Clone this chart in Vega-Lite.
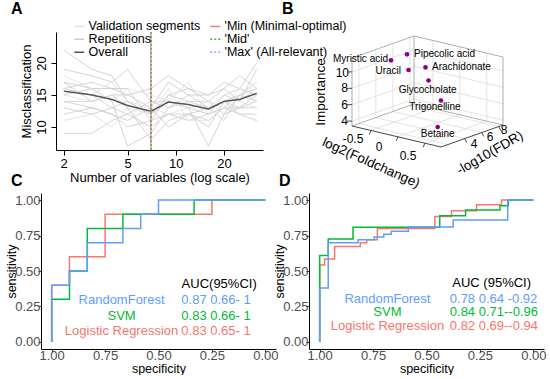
{
"$schema":"https://vega.github.io/schema/vega-lite/v6.json",
"autosize":{"type":"pad"},
"padding":{"left":5,"top":0,"right":0,"bottom":0},
"background":"white",
"config":{"font":"Liberation Sans","view":{"stroke":null},"axis":{"grid":false,"titleFontWeight":"normal","labelFont":"Liberation Sans","titleFont":"Liberation Sans"},"title":{"fontWeight":"bold","fontSize":16,"anchor":"start","frame":"group","baseline":"bottom","offset":0,"color":"black"}},
"columns":2,
"bounds":"flush",
"spacing":{"row":43,"column":33},
"resolve":{"scale":{"color":"independent","strokeDash":"independent","size":"independent","angle":"independent"},"legend":{"color":"independent","strokeDash":"independent"}},
"datasets":{
"reps":[
{"r":"r1","n":2,"m":17,"s":"Repetitions"},{"r":"r1","n":3,"m":16,"s":"Repetitions"},{"r":"r1","n":4,"m":16,"s":"Repetitions"},{"r":"r1","n":5,"m":15,"s":"Repetitions"},{"r":"r1","n":7,"m":13,"s":"Repetitions"},{"r":"r1","n":9,"m":17,"s":"Repetitions"},{"r":"r1","n":12,"m":15,"s":"Repetitions"},{"r":"r1","n":16,"m":13,"s":"Repetitions"},{"r":"r1","n":20,"m":14,"s":"Repetitions"},{"r":"r1","n":25,"m":15,"s":"Repetitions"},{"r":"r1","n":32,"m":16,"s":"Repetitions"},
{"r":"r2","n":2,"m":9,"s":"Repetitions"},{"r":"r2","n":3,"m":9,"s":"Repetitions"},{"r":"r2","n":4,"m":11,"s":"Repetitions"},{"r":"r2","n":5,"m":12,"s":"Repetitions"},{"r":"r2","n":7,"m":10,"s":"Repetitions"},{"r":"r2","n":9,"m":12,"s":"Repetitions"},{"r":"r2","n":12,"m":12,"s":"Repetitions"},{"r":"r2","n":16,"m":11,"s":"Repetitions"},{"r":"r2","n":20,"m":13,"s":"Repetitions"},{"r":"r2","n":25,"m":13,"s":"Repetitions"},{"r":"r2","n":32,"m":14,"s":"Repetitions"},
{"r":"r3","n":2,"m":22,"s":"Repetitions"},{"r":"r3","n":3,"m":19,"s":"Repetitions"},{"r":"r3","n":4,"m":18,"s":"Repetitions"},{"r":"r3","n":5,"m":14,"s":"Repetitions"},{"r":"r3","n":7,"m":12,"s":"Repetitions"},{"r":"r3","n":9,"m":15,"s":"Repetitions"},{"r":"r3","n":12,"m":16,"s":"Repetitions"},{"r":"r3","n":16,"m":14,"s":"Repetitions"},{"r":"r3","n":20,"m":12,"s":"Repetitions"},{"r":"r3","n":25,"m":15,"s":"Repetitions"},{"r":"r3","n":32,"m":17,"s":"Repetitions"},
{"r":"r4","n":2,"m":16,"s":"Repetitions"},{"r":"r4","n":3,"m":15,"s":"Repetitions"},{"r":"r4","n":4,"m":13,"s":"Repetitions"},{"r":"r4","n":5,"m":12,"s":"Repetitions"},{"r":"r4","n":7,"m":14,"s":"Repetitions"},{"r":"r4","n":9,"m":14,"s":"Repetitions"},{"r":"r4","n":12,"m":13,"s":"Repetitions"},{"r":"r4","n":16,"m":12,"s":"Repetitions"},{"r":"r4","n":20,"m":15,"s":"Repetitions"},{"r":"r4","n":25,"m":16,"s":"Repetitions"},{"r":"r4","n":32,"m":15,"s":"Repetitions"},
{"r":"r5","n":2,"m":14,"s":"Repetitions"},{"r":"r5","n":3,"m":14,"s":"Repetitions"},{"r":"r5","n":4,"m":15,"s":"Repetitions"},{"r":"r5","n":5,"m":13,"s":"Repetitions"},{"r":"r5","n":7,"m":8,"s":"Repetitions"},{"r":"r5","n":9,"m":11,"s":"Repetitions"},{"r":"r5","n":12,"m":12,"s":"Repetitions"},{"r":"r5","n":16,"m":10,"s":"Repetitions"},{"r":"r5","n":20,"m":14,"s":"Repetitions"},{"r":"r5","n":25,"m":12,"s":"Repetitions"},{"r":"r5","n":32,"m":12,"s":"Repetitions"},
{"r":"r6","n":2,"m":19,"s":"Repetitions"},{"r":"r6","n":3,"m":18,"s":"Repetitions"},{"r":"r6","n":4,"m":17,"s":"Repetitions"},{"r":"r6","n":5,"m":19,"s":"Repetitions"},{"r":"r6","n":7,"m":14,"s":"Repetitions"},{"r":"r6","n":9,"m":13,"s":"Repetitions"},{"r":"r6","n":12,"m":15,"s":"Repetitions"},{"r":"r6","n":16,"m":15,"s":"Repetitions"},{"r":"r6","n":20,"m":16,"s":"Repetitions"},{"r":"r6","n":25,"m":14,"s":"Repetitions"},{"r":"r6","n":32,"m":19,"s":"Repetitions"},
{"r":"r7","n":2,"m":12,"s":"Repetitions"},{"r":"r7","n":3,"m":13,"s":"Repetitions"},{"r":"r7","n":4,"m":12,"s":"Repetitions"},{"r":"r7","n":5,"m":10,"s":"Repetitions"},{"r":"r7","n":7,"m":11,"s":"Repetitions"},{"r":"r7","n":9,"m":12,"s":"Repetitions"},{"r":"r7","n":12,"m":11,"s":"Repetitions"},{"r":"r7","n":16,"m":12,"s":"Repetitions"},{"r":"r7","n":20,"m":13,"s":"Repetitions"},{"r":"r7","n":25,"m":12,"s":"Repetitions"},{"r":"r7","n":32,"m":11,"s":"Repetitions"},
{"r":"r8","n":2,"m":15,"s":"Repetitions"},{"r":"r8","n":3,"m":16,"s":"Repetitions"},{"r":"r8","n":4,"m":14,"s":"Repetitions"},{"r":"r8","n":5,"m":7,"s":"Repetitions"},{"r":"r8","n":7,"m":9,"s":"Repetitions"},{"r":"r8","n":9,"m":13,"s":"Repetitions"},{"r":"r8","n":12,"m":14,"s":"Repetitions"},{"r":"r8","n":16,"m":13,"s":"Repetitions"},{"r":"r8","n":20,"m":11,"s":"Repetitions"},{"r":"r8","n":25,"m":15,"s":"Repetitions"},{"r":"r8","n":32,"m":14,"s":"Repetitions"},
{"r":"r9","n":2,"m":17,"s":"Repetitions"},{"r":"r9","n":3,"m":14,"s":"Repetitions"},{"r":"r9","n":4,"m":15,"s":"Repetitions"},{"r":"r9","n":5,"m":15,"s":"Repetitions"},{"r":"r9","n":7,"m":16,"s":"Repetitions"},{"r":"r9","n":9,"m":18,"s":"Repetitions"},{"r":"r9","n":12,"m":16,"s":"Repetitions"},{"r":"r9","n":16,"m":15,"s":"Repetitions"},{"r":"r9","n":20,"m":17,"s":"Repetitions"},{"r":"r9","n":25,"m":16,"s":"Repetitions"},{"r":"r9","n":32,"m":20,"s":"Repetitions"},
{"r":"r10","n":2,"m":13,"s":"Repetitions"},{"r":"r10","n":3,"m":12,"s":"Repetitions"},{"r":"r10","n":4,"m":13,"s":"Repetitions"},{"r":"r10","n":5,"m":14,"s":"Repetitions"},{"r":"r10","n":7,"m":12,"s":"Repetitions"},{"r":"r10","n":9,"m":14,"s":"Repetitions"},{"r":"r10","n":12,"m":13,"s":"Repetitions"},{"r":"r10","n":16,"m":7,"s":"Repetitions"},{"r":"r10","n":20,"m":12,"s":"Repetitions"},{"r":"r10","n":25,"m":13,"s":"Repetitions"},{"r":"r10","n":32,"m":13,"s":"Repetitions"},
{"r":"r11","n":2,"m":16,"s":"Repetitions"},{"r":"r11","n":3,"m":17,"s":"Repetitions"},{"r":"r11","n":4,"m":16,"s":"Repetitions"},{"r":"r11","n":5,"m":16,"s":"Repetitions"},{"r":"r11","n":7,"m":11,"s":"Repetitions"},{"r":"r11","n":9,"m":15,"s":"Repetitions"},{"r":"r11","n":12,"m":14,"s":"Repetitions"},{"r":"r11","n":16,"m":14,"s":"Repetitions"},{"r":"r11","n":20,"m":16,"s":"Repetitions"},{"r":"r11","n":25,"m":18,"s":"Repetitions"},{"r":"r11","n":32,"m":16,"s":"Repetitions"},
{"r":"r12","n":2,"m":14,"s":"Repetitions"},{"r":"r12","n":3,"m":13,"s":"Repetitions"},{"r":"r12","n":4,"m":12,"s":"Repetitions"},{"r":"r12","n":5,"m":11,"s":"Repetitions"},{"r":"r12","n":7,"m":13,"s":"Repetitions"},{"r":"r12","n":9,"m":10,"s":"Repetitions"},{"r":"r12","n":12,"m":12,"s":"Repetitions"},{"r":"r12","n":16,"m":13,"s":"Repetitions"},{"r":"r12","n":20,"m":14,"s":"Repetitions"},{"r":"r12","n":25,"m":13,"s":"Repetitions"},{"r":"r12","n":32,"m":15,"s":"Repetitions"},
{"r":"r13","n":2,"m":18,"s":"Validation segments"},{"r":"r13","n":3,"m":16,"s":"Validation segments"},{"r":"r13","n":4,"m":14,"s":"Validation segments"},{"r":"r13","n":5,"m":16,"s":"Validation segments"},{"r":"r13","n":7,"m":15,"s":"Validation segments"},{"r":"r13","n":9,"m":14,"s":"Validation segments"},{"r":"r13","n":12,"m":17,"s":"Validation segments"},{"r":"r13","n":16,"m":12,"s":"Validation segments"},{"r":"r13","n":20,"m":15,"s":"Validation segments"},{"r":"r13","n":25,"m":14,"s":"Validation segments"},{"r":"r13","n":32,"m":16,"s":"Validation segments"},
{"r":"r14","n":2,"m":15,"s":"Validation segments"},{"r":"r14","n":3,"m":14,"s":"Validation segments"},{"r":"r14","n":4,"m":15,"s":"Validation segments"},{"r":"r14","n":5,"m":13,"s":"Validation segments"},{"r":"r14","n":7,"m":12,"s":"Validation segments"},{"r":"r14","n":9,"m":16,"s":"Validation segments"},{"r":"r14","n":12,"m":11,"s":"Validation segments"},{"r":"r14","n":16,"m":11,"s":"Validation segments"},{"r":"r14","n":20,"m":13,"s":"Validation segments"},{"r":"r14","n":25,"m":15,"s":"Validation segments"},{"r":"r14","n":32,"m":17,"s":"Validation segments"},
{"r":"r15","n":2,"m":11,"s":"Validation segments"},{"r":"r15","n":3,"m":12,"s":"Validation segments"},{"r":"r15","n":4,"m":10,"s":"Validation segments"},{"r":"r15","n":5,"m":13,"s":"Validation segments"},{"r":"r15","n":7,"m":9,"s":"Validation segments"},{"r":"r15","n":9,"m":13,"s":"Validation segments"},{"r":"r15","n":12,"m":14,"s":"Validation segments"},{"r":"r15","n":16,"m":13,"s":"Validation segments"},{"r":"r15","n":20,"m":15,"s":"Validation segments"},{"r":"r15","n":25,"m":14,"s":"Validation segments"},{"r":"r15","n":32,"m":13,"s":"Validation segments"},
{"r":"r16","n":2,"m":16,"s":"Validation segments"},{"r":"r16","n":3,"m":15,"s":"Validation segments"},{"r":"r16","n":4,"m":17,"s":"Validation segments"},{"r":"r16","n":5,"m":14,"s":"Validation segments"},{"r":"r16","n":7,"m":13,"s":"Validation segments"},{"r":"r16","n":9,"m":12,"s":"Validation segments"},{"r":"r16","n":12,"m":13,"s":"Validation segments"},{"r":"r16","n":16,"m":14,"s":"Validation segments"},{"r":"r16","n":20,"m":13,"s":"Validation segments"},{"r":"r16","n":25,"m":16,"s":"Validation segments"},{"r":"r16","n":32,"m":14,"s":"Validation segments"}
],
"overall":[
{"n":2,"m":15.6,"s":"Overall"},{"n":3,"m":15.0,"s":"Overall"},{"n":4,"m":14.3,"s":"Overall"},{"n":5,"m":13.35,"s":"Overall"},{"n":7,"m":12.45,"s":"Overall"},{"n":9,"m":13.9,"s":"Overall"},{"n":12,"m":13.5,"s":"Overall"},{"n":16,"m":12.8,"s":"Overall"},{"n":20,"m":14.0,"s":"Overall"},{"n":25,"m":14.3,"s":"Overall"},{"n":32,"m":15.25,"s":"Overall"}
],
"sel":[
{"n":7,"s":"'Max' (All-relevant)"},{"n":7,"s":"'Min (Minimal-optimal)"},{"n":7,"s":"'Mid'"}
],
"bgrid":[
{"u":351,"v":119.1,"u2":413,"v2":97.1},{"u":351,"v":102.7,"u2":413,"v2":80.7},{"u":351,"v":86.3,"u2":413,"v2":64.3},{"u":351,"v":69.9,"u2":413,"v2":47.9},
{"u":413,"v":97.1,"u2":502,"v2":118.1},{"u":413,"v":80.7,"u2":502,"v2":101.7},{"u":413,"v":64.3,"u2":502,"v2":85.3},{"u":413,"v":47.9,"u2":502,"v2":68.9},
{"u":357.8,"v":121.6,"u2":357.8,"v2":53.6},{"u":374.8,"v":115.6,"u2":374.8,"v2":47.6},{"u":391.8,"v":109.5,"u2":391.8,"v2":41.5},{"u":408.8,"v":103.5,"u2":408.8,"v2":35.5},
{"u":431.9,"v":106.5,"u2":431.9,"v2":38.5},{"u":458.8,"v":112.8,"u2":458.8,"v2":44.8},{"u":485.8,"v":119.2,"u2":485.8,"v2":51.2},
{"u":357.8,"v":121.6,"u2":446.8,"v2":142.6},{"u":374.8,"v":115.6,"u2":463.8,"v2":136.6},{"u":391.8,"v":109.5,"u2":480.8,"v2":130.5},{"u":408.8,"v":103.5,"u2":497.8,"v2":124.5},
{"u":369.9,"v":128.5,"u2":431.9,"v2":106.5},{"u":396.8,"v":134.8,"u2":458.8,"v2":112.8},{"u":423.8,"v":141.2,"u2":485.8,"v2":119.2}
],
"bbox":[
{"u":351,"v":124,"u2":351,"v2":56},{"u":413,"v":102,"u2":413,"v2":34},{"u":502,"v":123,"u2":502,"v2":55},
{"u":351,"v":56,"u2":413,"v2":34},{"u":413,"v":34,"u2":502,"v2":55},{"u":351,"v":124,"u2":413,"v2":102},{"u":413,"v":102,"u2":502,"v2":123}
],
"baxis":[
{"u":351,"v":124,"u2":440,"v2":145},{"u":440,"v":145,"u2":502,"v2":123},
{"u":346,"v":119.1,"u2":351,"v2":119.1},{"u":346,"v":102.7,"u2":351,"v2":102.7},{"u":346,"v":86.3,"u2":351,"v2":86.3},{"u":346,"v":69.9,"u2":351,"v2":69.9},
{"u":369.9,"v":128.5,"u2":368.4,"v2":132.5},{"u":396.8,"v":134.8,"u2":395.3,"v2":138.8},{"u":423.8,"v":141.2,"u2":422.3,"v2":145.2},
{"u":463.8,"v":136.6,"u2":465.8,"v2":140.6},{"u":480.8,"v":130.5,"u2":482.8,"v2":134.5},{"u":497.8,"v":124.5,"u2":499.8,"v2":128.5}
],
"bpts":[
{"u":406,"v":52.3,"name":"Pipecolic acid"},{"u":390,"v":58.3,"name":"Myristic acid"},{"u":407.5,"v":68,"name":"Uracil"},{"u":424.5,"v":65.3,"name":"Arachidonate"},{"u":427.5,"v":78.5,"name":"Glycocholate"},{"u":440,"v":98.5,"name":"Trigonelline"},{"u":436.7,"v":125,"name":"Betaine"}
],
"btl":[
{"u":413,"v":52,"t":"Pipecolic acid","sz":10},{"u":431,"v":64.5,"t":"Arachidonate","sz":10}
],
"btr":[
{"u":387,"v":57,"t":"Myristic acid","sz":10},{"u":400,"v":69,"t":"Uracil","sz":10},
{"u":347,"v":119.1,"t":"4","sz":12},{"u":347,"v":102.7,"t":"6","sz":12},{"u":347,"v":86.3,"t":"8","sz":12},{"u":348,"v":70.5,"t":"10","sz":12}
],
"btc":[
{"u":426.7,"v":88.3,"t":"Glycocholate","sz":10,"a":0},{"u":434,"v":105,"t":"Trigonelline","sz":10,"a":0},{"u":436.7,"v":132.3,"t":"Betaine","sz":10,"a":0},
{"u":352,"v":137,"t":"-0.5","sz":12,"a":0},{"u":378,"v":145,"t":"0","sz":12,"a":0},{"u":407,"v":154,"t":"0.5","sz":12,"a":0},
{"u":473,"v":142,"t":"4","sz":12,"a":0},{"u":489,"v":135,"t":"6","sz":12,"a":0},{"u":503,"v":127.5,"t":"8","sz":12,"a":0},
{"u":320,"v":90,"t":"Importance","sz":13.5,"a":270},{"u":370,"v":161,"t":"log2(Foldchange)","sz":13.5,"a":24},{"u":489,"v":151,"t":"-log10(FDR)","sz":13.5,"a":330}
],
"rocC":[
{"mdl":"Logistic Regression","i":0,"sp":1,"se":0},{"mdl":"Logistic Regression","i":1,"sp":1,"se":0.4},{"mdl":"Logistic Regression","i":2,"sp":0.9167,"se":0.4},{"mdl":"Logistic Regression","i":3,"sp":0.9167,"se":0.6},{"mdl":"Logistic Regression","i":4,"sp":0.75,"se":0.6},{"mdl":"Logistic Regression","i":5,"sp":0.75,"se":0.9},{"mdl":"Logistic Regression","i":6,"sp":0.25,"se":0.9},{"mdl":"Logistic Regression","i":7,"sp":0.25,"se":1},{"mdl":"Logistic Regression","i":8,"sp":0,"se":1},
{"mdl":"SVM","i":0,"sp":1,"se":0},{"mdl":"SVM","i":1,"sp":1,"se":0.3},{"mdl":"SVM","i":2,"sp":0.9167,"se":0.3},{"mdl":"SVM","i":3,"sp":0.9167,"se":0.5},{"mdl":"SVM","i":4,"sp":0.8333,"se":0.5},{"mdl":"SVM","i":5,"sp":0.8333,"se":0.8},{"mdl":"SVM","i":6,"sp":0.6667,"se":0.8},{"mdl":"SVM","i":7,"sp":0.6667,"se":0.9},{"mdl":"SVM","i":8,"sp":0.3333,"se":0.9},{"mdl":"SVM","i":9,"sp":0.3333,"se":1},{"mdl":"SVM","i":10,"sp":0,"se":1},
{"mdl":"RandomForest","i":0,"sp":1,"se":0},{"mdl":"RandomForest","i":1,"sp":1,"se":0.4},{"mdl":"RandomForest","i":2,"sp":0.9167,"se":0.4},{"mdl":"RandomForest","i":3,"sp":0.9167,"se":0.5},{"mdl":"RandomForest","i":4,"sp":0.8333,"se":0.5},{"mdl":"RandomForest","i":5,"sp":0.8333,"se":0.7},{"mdl":"RandomForest","i":6,"sp":0.6667,"se":0.7},{"mdl":"RandomForest","i":7,"sp":0.6667,"se":0.8},{"mdl":"RandomForest","i":8,"sp":0.5833,"se":0.8},{"mdl":"RandomForest","i":9,"sp":0.5833,"se":0.9},{"mdl":"RandomForest","i":10,"sp":0.5,"se":0.9},{"mdl":"RandomForest","i":11,"sp":0.5,"se":1},{"mdl":"RandomForest","i":12,"sp":0,"se":1}
],
"rocD":[
{"mdl":"Logistic Regression","i":0,"sp":1,"se":0},{"mdl":"Logistic Regression","i":1,"sp":1,"se":0.543},{"mdl":"Logistic Regression","i":2,"sp":0.977,"se":0.543},{"mdl":"Logistic Regression","i":3,"sp":0.977,"se":0.585},{"mdl":"Logistic Regression","i":4,"sp":0.93,"se":0.585},{"mdl":"Logistic Regression","i":5,"sp":0.93,"se":0.672},{"mdl":"Logistic Regression","i":6,"sp":0.81,"se":0.672},{"mdl":"Logistic Regression","i":7,"sp":0.81,"se":0.7},{"mdl":"Logistic Regression","i":8,"sp":0.78,"se":0.7},{"mdl":"Logistic Regression","i":9,"sp":0.78,"se":0.72},{"mdl":"Logistic Regression","i":10,"sp":0.73,"se":0.72},{"mdl":"Logistic Regression","i":11,"sp":0.73,"se":0.8},{"mdl":"Logistic Regression","i":12,"sp":0.461,"se":0.8},{"mdl":"Logistic Regression","i":13,"sp":0.461,"se":0.885},{"mdl":"Logistic Regression","i":14,"sp":0.383,"se":0.885},{"mdl":"Logistic Regression","i":15,"sp":0.383,"se":0.925},{"mdl":"Logistic Regression","i":16,"sp":0.266,"se":0.925},{"mdl":"Logistic Regression","i":17,"sp":0.266,"se":0.967},{"mdl":"Logistic Regression","i":18,"sp":0.149,"se":0.967},{"mdl":"Logistic Regression","i":19,"sp":0.149,"se":1},{"mdl":"Logistic Regression","i":20,"sp":0,"se":1},
{"mdl":"SVM","i":0,"sp":1,"se":0},{"mdl":"SVM","i":1,"sp":1,"se":0.61},{"mdl":"SVM","i":2,"sp":0.96,"se":0.61},{"mdl":"SVM","i":3,"sp":0.96,"se":0.726},{"mdl":"SVM","i":4,"sp":0.844,"se":0.726},{"mdl":"SVM","i":5,"sp":0.844,"se":0.808},{"mdl":"SVM","i":6,"sp":0.438,"se":0.808},{"mdl":"SVM","i":7,"sp":0.438,"se":0.89},{"mdl":"SVM","i":8,"sp":0.317,"se":0.89},{"mdl":"SVM","i":9,"sp":0.317,"se":0.93},{"mdl":"SVM","i":10,"sp":0.156,"se":0.93},{"mdl":"SVM","i":11,"sp":0.156,"se":0.96},{"mdl":"SVM","i":12,"sp":0.117,"se":0.96},{"mdl":"SVM","i":13,"sp":0.117,"se":1},{"mdl":"SVM","i":14,"sp":0,"se":1},
{"mdl":"RandomForest","i":0,"sp":1,"se":0},{"mdl":"RandomForest","i":1,"sp":1,"se":0.38},{"mdl":"RandomForest","i":2,"sp":0.96,"se":0.38},{"mdl":"RandomForest","i":3,"sp":0.96,"se":0.7},{"mdl":"RandomForest","i":4,"sp":0.82,"se":0.7},{"mdl":"RandomForest","i":5,"sp":0.82,"se":0.72},{"mdl":"RandomForest","i":6,"sp":0.745,"se":0.72},{"mdl":"RandomForest","i":7,"sp":0.745,"se":0.74},{"mdl":"RandomForest","i":8,"sp":0.7,"se":0.74},{"mdl":"RandomForest","i":9,"sp":0.7,"se":0.76},{"mdl":"RandomForest","i":10,"sp":0.665,"se":0.76},{"mdl":"RandomForest","i":11,"sp":0.665,"se":0.78},{"mdl":"RandomForest","i":12,"sp":0.585,"se":0.78},{"mdl":"RandomForest","i":13,"sp":0.585,"se":0.81},{"mdl":"RandomForest","i":14,"sp":0.375,"se":0.81},{"mdl":"RandomForest","i":15,"sp":0.375,"se":0.86},{"mdl":"RandomForest","i":16,"sp":0.12,"se":0.86},{"mdl":"RandomForest","i":17,"sp":0.12,"se":1},{"mdl":"RandomForest","i":18,"sp":0,"se":1}
],
"aucC":[
{"sp":0.216,"se":0.411,"t":"AUC(95%CI)","mdl":"hdr"},{"sp":0.673,"se":0.296,"t":"RandomForest","mdl":"RandomForest"},{"sp":0.673,"se":0.185,"t":"SVM","mdl":"SVM"},{"sp":0.673,"se":0.074,"t":"Logistic Regression","mdl":"Logistic Regression"}
],
"aucCv":[
{"sp":0.393,"se":0.296,"t":"0.87 0.66- 1","mdl":"RandomForest"},{"sp":0.393,"se":0.185,"t":"0.83 0.66- 1","mdl":"SVM"},{"sp":0.393,"se":0.074,"t":"0.83 0.65- 1","mdl":"Logistic Regression"}
],
"aucD":[
{"sp":0.195,"se":0.417,"t":"AUC (95%CI)","mdl":"hdr"},{"sp":0.683,"se":0.304,"t":"RandomForest","mdl":"RandomForest"},{"sp":0.683,"se":0.209,"t":"SVM","mdl":"SVM"},{"sp":0.683,"se":0.111,"t":"Logistic Regression","mdl":"Logistic Regression"}
],
"aucDv":[
{"sp":0.391,"se":0.304,"t":"0.78 0.64 -0.92","mdl":"RandomForest"},{"sp":0.391,"se":0.209,"t":"0.84 0.71--0.96","mdl":"SVM"},{"sp":0.391,"se":0.111,"t":"0.82 0.69--0.94","mdl":"Logistic Regression"}
]
},
"concat":[
{
"width":222,"height":118,
"title":{"text":"A","dx":-30,"dy":0.5},
"layer":[
{"data":{"name":"reps"},"mark":{"type":"line","strokeWidth":1},
"encoding":{
"x":{"field":"n","type":"quantitative","scale":{"type":"log","domain":[1.79,35],"range":[15,222],"nice":false},"axis":{"title":"Number of variables (log scale)","values":[2,5,10,20],"format":"d","labelFlush":false,"labelFontSize":13,"titleFontSize":13,"labelColor":"black","titleColor":"black","tickColor":"black","domainColor":"black","tickSize":5,"labelPadding":2,"titlePadding":1}},
"y":{"field":"m","type":"quantitative","scale":{"domain":[6.4,24.84],"nice":false,"zero":false},"axis":{"title":"Misclassification","values":[10,15,20],"offset":-15,"labelAngle":-90,"labelAlign":"center","labelBaseline":"bottom","labelFontSize":13,"titleFontSize":13,"labelColor":"black","titleColor":"black","tickColor":"black","domainColor":"black","tickSize":5,"labelPadding":3,"titlePadding":2}},
"detail":{"field":"r","type":"nominal"},
"color":{"field":"s","type":"nominal","scale":{"domain":["Validation segments","Repetitions","Overall","'Min (Minimal-optimal)","'Mid'","'Max' (All-relevant)"],"range":["#e2e2e2","#cfcfcf","#555555","#F27B7B","#33BB44","#A0A0F0"]},"legend":{"title":null,"orient":"none","legendX":32,"legendY":-12,"columns":2,"symbolType":"stroke","symbolSize":100,"symbolStrokeWidth":1.5,"labelFontSize":12.5,"labelColor":"black","labelLimit":0,"rowPadding":-5,"columnPadding":6,"labelOffset":3,"padding":0}},
"strokeDash":{"field":"s","type":"nominal","scale":{"domain":["Validation segments","Repetitions","Overall","'Min (Minimal-optimal)","'Mid'","'Max' (All-relevant)"],"range":[[1,0],[1,0],[1,0],[1,0],[2,2],[2,2]]},"legend":{"title":null,"orient":"none","legendX":32,"legendY":-12,"columns":2,"symbolType":"stroke","symbolSize":100,"symbolStrokeWidth":1.5,"labelFontSize":12.5,"labelColor":"black","labelLimit":0,"rowPadding":-5,"columnPadding":6,"labelOffset":3,"padding":0}}
}},
{"data":{"name":"overall"},"mark":{"type":"line","strokeWidth":1.5},
"encoding":{
"x":{"field":"n","type":"quantitative"},
"y":{"field":"m","type":"quantitative"},
"color":{"field":"s","type":"nominal"},
"strokeDash":{"field":"s","type":"nominal"}
}},
{"data":{"name":"sel"},"mark":{"type":"rule","strokeWidth":1.2},
"encoding":{
"x":{"field":"n","type":"quantitative"},
"color":{"field":"s","type":"nominal"},
"strokeDash":{"field":"s","type":"nominal"}
}}
]
},
{
"width":240,"height":118,
"title":{"text":"B","dx":-27,"dy":-11},
"encoding":{
"x":{"field":"u","type":"quantitative","scale":{"domain":[308,548],"nice":false,"zero":false},"axis":null},
"y":{"field":"v","type":"quantitative","scale":{"domain":[30,148],"nice":false,"zero":false,"reverse":true},"axis":null}
},
"layer":[
{"data":{"name":"bgrid"},"mark":{"type":"rule","color":"#dcdcdc","strokeWidth":0.8},"encoding":{"x2":{"field":"u2"},"y2":{"field":"v2"}}},
{"data":{"name":"bbox"},"mark":{"type":"rule","color":"#9a9a9a","strokeWidth":0.8},"encoding":{"x2":{"field":"u2"},"y2":{"field":"v2"}}},
{"data":{"name":"baxis"},"mark":{"type":"rule","color":"#333333","strokeWidth":0.9},"encoding":{"x2":{"field":"u2"},"y2":{"field":"v2"}}},
{"data":{"name":"bpts"},"mark":{"type":"circle","size":22,"color":"#8B008B","opacity":1}},
{"data":{"name":"btl"},"mark":{"type":"text","align":"left","baseline":"middle","color":"black"},"encoding":{"text":{"field":"t"},"size":{"field":"sz","type":"quantitative","scale":null}}},
{"data":{"name":"btr"},"mark":{"type":"text","align":"right","baseline":"middle","color":"black"},"encoding":{"text":{"field":"t"},"size":{"field":"sz","type":"quantitative","scale":null}}},
{"data":{"name":"btc"},"mark":{"type":"text","align":"center","baseline":"middle","color":"black"},"encoding":{"text":{"field":"t"},"size":{"field":"sz","type":"quantitative","scale":null},"angle":{"field":"a","type":"quantitative","scale":null}}}
]
},
{
"width":235,"height":156,
"title":{"text":"C","dx":-30},
"encoding":{
"x":{"field":"sp","type":"quantitative","scale":{"domain":[-0.05,1.05],"reverse":true,"nice":false,"zero":false},"axis":{"title":"specificity","values":[1,0.75,0.5,0.25,0],"format":".2f","labelFlush":false,"labelFontSize":13,"labelColor":"#4d4d4d","titleFontSize":12.5,"titleColor":"black","tickColor":"#333333","tickSize":3,"domainColor":"black","labelPadding":-3,"titlePadding":0}},
"y":{"field":"se","type":"quantitative","scale":{"domain":[-0.05,1.05],"nice":false,"zero":false},"axis":{"title":"sensitivity","values":[0,0.25,0.5,0.75,1],"format":".2f","labelFontSize":13,"labelColor":"#4d4d4d","titleFontSize":12.5,"titleColor":"black","tickColor":"#333333","tickSize":3,"domainColor":"black","labelPadding":-2,"titlePadding":-4}},
"color":{"field":"mdl","type":"nominal","scale":{"domain":["RandomForest","SVM","Logistic Regression","hdr"],"range":["#619CFF","#00BA38","#F8766D","black"]},"legend":null}
},
"layer":[
{"data":{"name":"rocC"},"mark":{"type":"line","strokeWidth":1.5},"encoding":{"order":{"field":"i","type":"quantitative"}}},
{"data":{"name":"aucC"},"mark":{"type":"text","align":"center","baseline":"middle","fontSize":13},"encoding":{"text":{"field":"t"}}},
{"data":{"name":"aucCv"},"mark":{"type":"text","align":"left","baseline":"middle","fontSize":13},"encoding":{"text":{"field":"t"}}}
]
},
{
"width":235,"height":156,
"title":{"text":"D","dx":-30},
"encoding":{
"x":{"field":"sp","type":"quantitative","scale":{"domain":[-0.05,1.05],"reverse":true,"nice":false,"zero":false},"axis":{"title":"specificity","values":[1,0.75,0.5,0.25,0],"format":".2f","labelFlush":false,"labelFontSize":13,"labelColor":"#4d4d4d","titleFontSize":12.5,"titleColor":"black","tickColor":"#333333","tickSize":3,"domainColor":"black","labelPadding":-3,"titlePadding":0}},
"y":{"field":"se","type":"quantitative","scale":{"domain":[-0.05,1.05],"nice":false,"zero":false},"axis":{"title":"sensitivity","values":[0,0.25,0.5,0.75,1],"format":".2f","labelFontSize":13,"labelColor":"#4d4d4d","titleFontSize":12.5,"titleColor":"black","tickColor":"#333333","tickSize":3,"domainColor":"black","labelPadding":-2,"titlePadding":-4}},
"color":{"field":"mdl","type":"nominal","scale":{"domain":["RandomForest","SVM","Logistic Regression","hdr"],"range":["#619CFF","#00BA38","#F8766D","black"]},"legend":null}
},
"layer":[
{"data":{"name":"rocD"},"mark":{"type":"line","strokeWidth":1.5},"encoding":{"order":{"field":"i","type":"quantitative"}}},
{"data":{"name":"aucD"},"mark":{"type":"text","align":"center","baseline":"middle","fontSize":13},"encoding":{"text":{"field":"t"}}},
{"data":{"name":"aucDv"},"mark":{"type":"text","align":"left","baseline":"middle","fontSize":13},"encoding":{"text":{"field":"t"}}}
]
}
]
}
